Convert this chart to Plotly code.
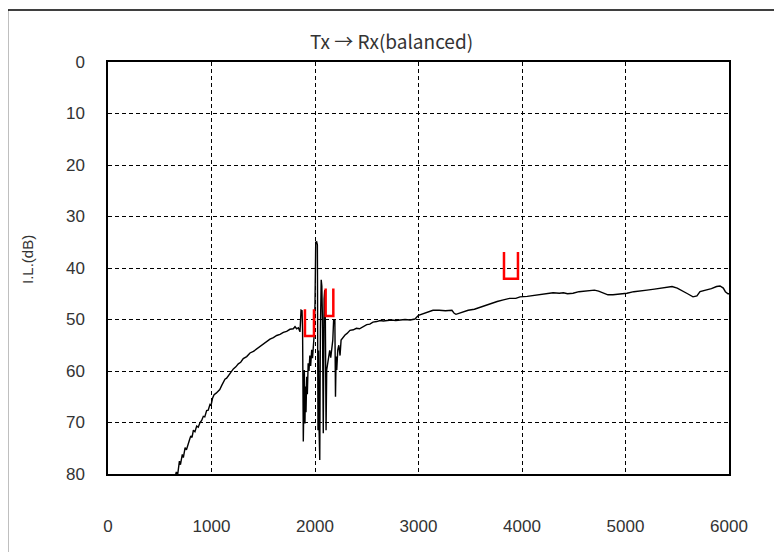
import plotly.graph_objects as go

# ---- data ----
freq = [630, 660, 672, 690, 700, 718, 728, 745, 758, 776, 790, 800, 812, 825, 840, 857, 872, 889,
        905, 921, 935, 953, 968, 985, 995, 1010, 1025, 1045, 1066, 1080, 1099, 1115, 1130, 1146,
        1162, 1185, 1211, 1235, 1259, 1282, 1307, 1340, 1372, 1405, 1437, 1470, 1501, 1533, 1565,
        1598, 1630, 1662, 1694, 1726, 1758, 1790, 1807, 1823, 1839,
        1855, 1865, 1875, 1880, 1887, 1892, 1897, 1903, 1908, 1913, 1920, 1926, 1934, 1942, 1950,
        1958, 1968, 1976, 1984, 1992, 2000, 2007, 2016, 2023, 2029, 2034, 2039, 2046, 2052, 2060,
        2066, 2072, 2080, 2088, 2094, 2100, 2107, 2113, 2122, 2132, 2142, 2152, 2162, 2172, 2180,
        2192, 2198, 2204, 2210, 2220, 2230, 2242, 2252, 2270, 2290, 2310, 2338,
        2370, 2400, 2430, 2467, 2500, 2530, 2560, 2596, 2630, 2660, 2700, 2740, 2780, 2821, 2870,
        2920, 2966, 3000, 3040, 3080, 3140, 3200, 3260, 3323, 3345, 3362, 3420, 3480, 3540, 3594,
        3650, 3700, 3760, 3820, 3880, 3940, 3981, 4050, 4120, 4200, 4250, 4300, 4360, 4400, 4440,
        4493, 4550, 4600, 4650, 4700, 4740, 4783, 4830, 4879, 4930, 5014, 5080, 5140, 5208, 5280,
        5350, 5420, 5450, 5500, 5550, 5600, 5652, 5690, 5720, 5780, 5830, 5880, 5913, 5945, 5965,
        5990, 6000]

il_db = [82.0, 79.6, 80.3, 77.5, 78.2, 76.2, 76.8, 74.9, 75.3, 73.8, 73.2, 72.6, 72.9, 71.5, 71.8,
         70.7, 70.9, 70.0, 69.6, 68.8, 68.9, 67.7, 67.6, 66.5, 66.7, 65.3, 64.6, 64.3, 63.8, 63.6,
         62.8, 62.2, 61.6, 61.4, 60.9, 60.3, 59.6, 59.2, 58.6, 58.3, 57.6, 57.2, 56.5, 56.2, 55.7,
         55.3, 54.8, 54.3, 53.8, 53.5, 53.1, 52.9, 52.5, 52.3, 51.9, 51.8, 51.4, 51.8, 51.6,
         52.4, 48.2, 48.3, 52.0, 73.7, 62.0, 59.8, 70.2, 63.0, 68.0, 61.1, 64.5, 58.5, 60.0, 57.0,
         59.0, 55.9, 57.5, 54.6, 53.0, 47.0, 35.0, 34.9, 35.5, 71.5, 56.0, 71.0, 77.3, 52.0, 42.3,
         43.5, 50.0, 72.1, 46.0, 44.3, 50.0, 71.5, 59.8, 58.8, 57.2, 56.0, 57.4, 55.0, 54.0, 50.1,
         50.2, 65.0, 57.2, 59.8, 55.9, 55.0, 57.0, 54.0, 53.5, 53.0, 52.7, 52.1,
         52.0, 51.7, 51.8, 51.3, 51.0, 50.9, 50.5, 50.4, 50.2, 50.3, 50.2, 50.1, 50.2, 50.1, 50.0,
         50.1, 49.9, 49.2, 48.9, 48.5, 48.2, 48.2, 48.3, 48.2, 48.8, 49.0, 48.6, 48.2, 48.0, 47.6,
         47.2, 46.8, 46.5, 46.2, 45.9, 45.9, 45.6, 45.5, 45.3, 45.1, 45.0, 44.8, 44.9, 44.8, 45.0,
         44.9, 44.6, 44.5, 44.3, 44.3, 44.5, 44.8, 45.2, 45.2, 45.1, 44.9, 44.6, 44.5, 44.3, 44.1,
         43.9, 43.8, 43.6, 43.9, 44.4, 45.0, 45.6, 45.4, 44.6, 44.3, 44.0, 43.6, 43.5, 43.9, 44.6,
         45.0, 45.0]

# red limit markers (open-top brackets)
mark_x_left = [1903, 2103, 3826]
mark_x_right = [1990, 2177, 3961]
mark_top = [48.0, 44.0, 36.9]
mark_bottom = [53.2, 49.3, 42.1]

x_ticks = [0, 1000, 2000, 3000, 4000, 5000, 6000]
y_ticks = [0, 10, 20, 30, 40, 50, 60, 70, 80]

title_text = "Tx → Rx(balanced)"
y_title = "I.L.(dB)"

# ---- figure ----
mx, my = [], []
for xl, xr, yt, yb in zip(mark_x_left, mark_x_right, mark_top, mark_bottom):
    mx += [xl, xl, xr, xr, None]
    my += [yt, yb, yb, yt, None]

fig = go.Figure()
fig.add_trace(go.Scatter(x=freq, y=il_db, mode="lines",
                         line=dict(color="black", width=1.4), showlegend=False,
                         hoverinfo="skip"))
fig.add_trace(go.Scatter(x=mx, y=my, mode="lines",
                         line=dict(color="#ff0000", width=2.5), showlegend=False,
                         hoverinfo="skip"))

# page body has an 8px margin, so the figure is placed 8px in from the window corner
OFF = 8
W, H = 766, 544
L, R, T, B = 100, 45, 54, 78
pw, ph = W - L - R, H - T - B

def px2paper(px, py):
    # px, py are window coordinates
    px -= OFF
    py -= OFF
    return (px - L) / pw, (H - B - py) / ph

font = "Liberation Sans, Arial, sans-serif"
axis_common = dict(showgrid=True, gridcolor="black", gridwidth=1, griddash="4px,3px",
                   showline=True, mirror=True, linecolor="black", linewidth=1.5,
                   ticks="", zeroline=False, tickfont=dict(family=font, size=17, color="#333"))

fig.update_layout(
    width=W, height=H,
    margin=dict(l=L, r=R, t=T, b=B, pad=0),
    paper_bgcolor="white", plot_bgcolor="white",
    xaxis=dict(range=[0, 6000], tickvals=x_ticks, ticklabelstandoff=36, **axis_common),
    yaxis=dict(range=[80, 0], tickvals=y_ticks, ticklabelstandoff=18, **axis_common),
    showlegend=False,
)

tx, ty = px2paper(391, 40)
lx, ly = px2paper(27, 260)
fig.add_annotation(text=title_text, x=tx, y=ty, xref="paper", yref="paper",
                   showarrow=False, xanchor="center", yanchor="middle",
                   font=dict(family="Noto Sans CJK JP, sans-serif", size=19, color="#333"))
fig.add_annotation(text=y_title, x=lx, y=ly, xref="paper", yref="paper",
                   showarrow=False, xanchor="center", yanchor="middle", textangle=-90,
                   font=dict(family=font, size=15, color="#333"))

bx0, by1 = px2paper(7.5, 10)
bx1, by0 = px2paper(800, 580)
fig.add_shape(type="rect", xref="paper", yref="paper", x0=bx0, x1=bx1, y0=by0, y1=by1,
              line=dict(color="black", width=1.5), fillcolor="rgba(0,0,0,0)", layer="below")

fig.write_html("out.html")
